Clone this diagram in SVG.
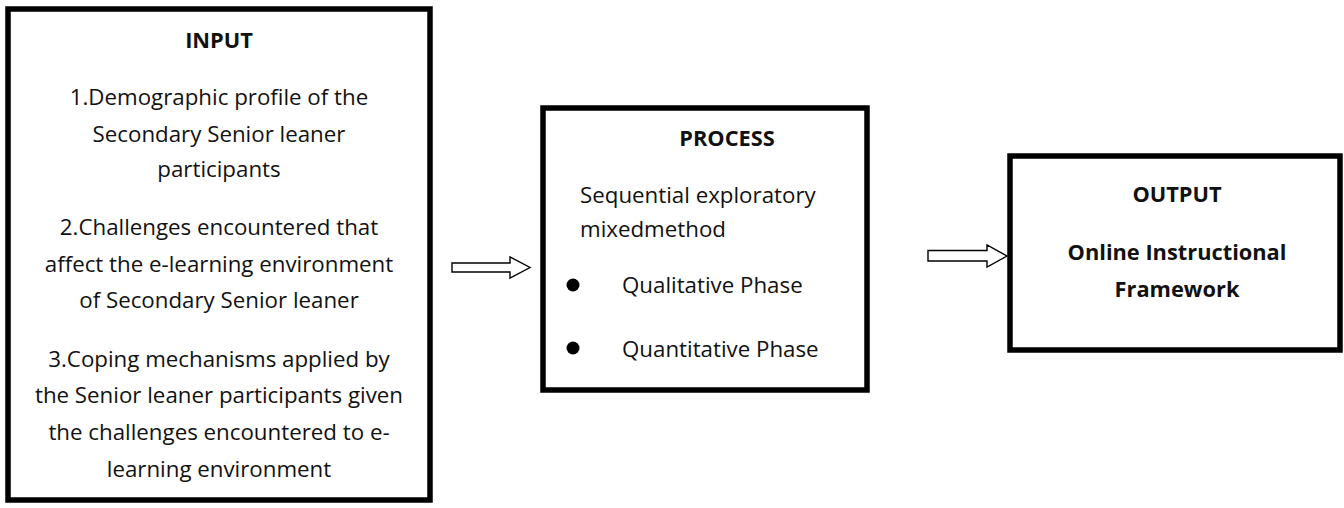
<svg xmlns="http://www.w3.org/2000/svg" width="1344" height="508" viewBox="0 0 1344 508">
<style>
.box{fill:#fff;stroke:#000;stroke-width:5.5}
.t{font-family:"Open Sans","Noto Sans","Liberation Sans",sans-serif;font-size:22.3px;fill:#111}
.c{text-anchor:middle}
.b{font-weight:bold;font-size:21.8px}
.arr{fill:#fff;stroke:#000;stroke-width:1.4;stroke-linejoin:miter}
</style>
<g id="input">
<rect class="box" x="8" y="9" width="422" height="491"/>
<text class="t c b" x="219" y="48">INPUT</text>
<text class="t c" x="219" y="105">1.Demographic profile of the</text>
<text class="t c" x="219" y="142">Secondary Senior leaner</text>
<text class="t c" x="219" y="177">participants</text>
<text class="t c" x="219" y="235">2.Challenges encountered that</text>
<text class="t c" x="219" y="272">affect the e-learning environment</text>
<text class="t c" x="219" y="308">of Secondary Senior leaner</text>
<text class="t c" x="219" y="367">3.Coping mechanisms applied by</text>
<text class="t c" x="219" y="403">the Senior leaner participants given</text>
<text class="t c" x="219" y="440">the challenges encountered to e-</text>
<text class="t c" x="219" y="477">learning environment</text>
</g>
<g id="process">
<rect class="box" x="543" y="108" width="324" height="282"/>
<text class="t c b" x="727" y="146">PROCESS</text>
<text class="t" x="580" y="203">Sequential exploratory</text>
<text class="t" x="580" y="237">mixedmethod</text>
<circle cx="573" cy="285" r="6.5" fill="#000"/>
<text class="t" x="622" y="293">Qualitative Phase</text>
<circle cx="573" cy="348" r="6.5" fill="#000"/>
<text class="t" x="622" y="357">Quantitative Phase</text>
</g>
<g id="output">
<rect class="box" x="1010" y="156" width="330" height="194"/>
<text class="t c b" x="1177" y="202">OUTPUT</text>
<text class="t c b" x="1177" y="260">Online Instructional</text>
<text class="t c b" x="1177" y="297">Framework</text>
</g>
<g id="connectors">
<polygon class="arr" points="452,263 510,263 510,257 530,267.5 510,278 510,272 452,272"/>
<polygon class="arr" points="928,250.5 987,250.5 987,245 1007,256 987,267 987,261 928,261"/>
</g>
</svg>
